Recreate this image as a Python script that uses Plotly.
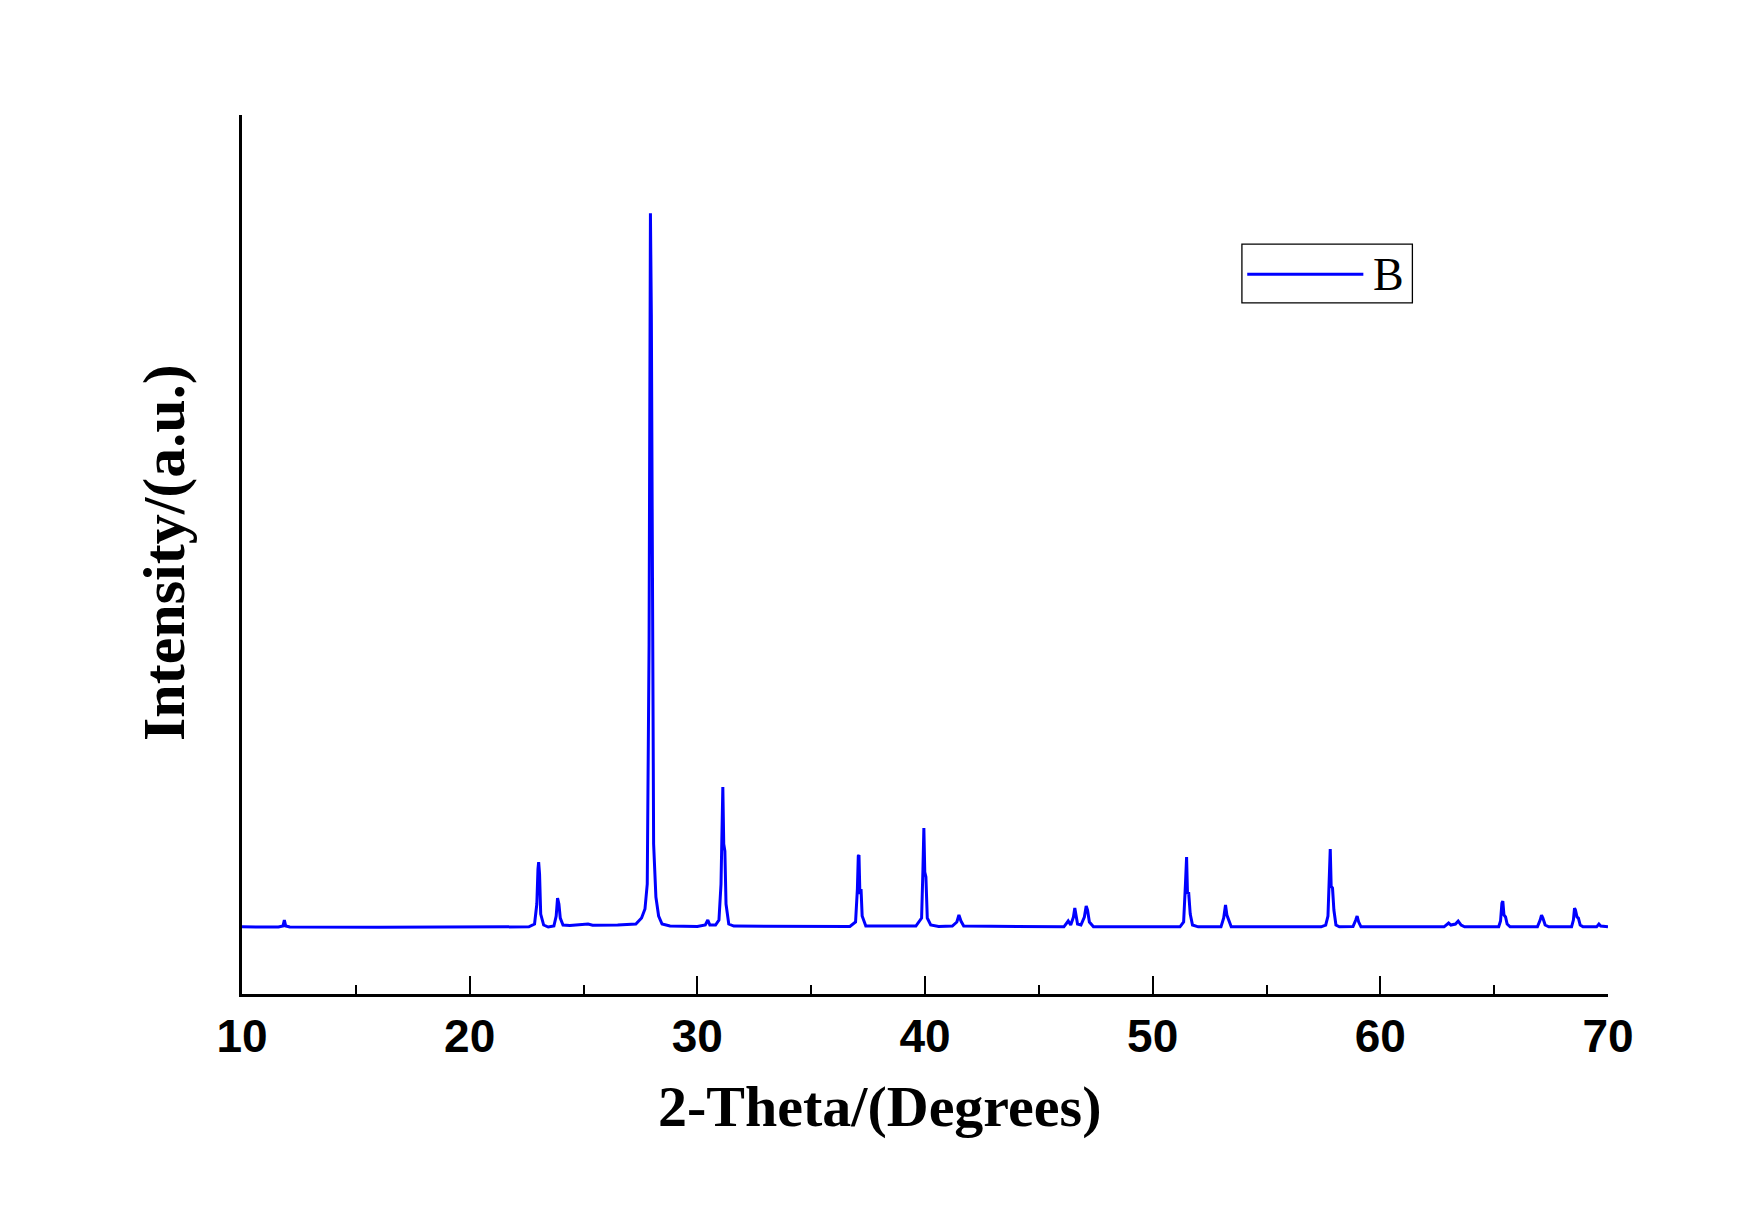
import plotly.graph_objects as go

# XRD pattern (2-theta in degrees, intensity in arbitrary counts)
two_theta = [
    10.00, 11.60, 11.80, 11.86, 11.92, 12.10, 16.00, 20.00,
    22.60, 22.85, 22.95, 23.00, 23.03, 23.07, 23.12, 23.25, 23.45,
    23.70, 23.80, 23.86, 23.92, 23.98, 24.10, 24.40, 25.20, 25.40, 26.50,
    27.30, 27.55, 27.70, 27.80, 27.88, 27.94, 27.98, 28.03, 28.08, 28.18, 28.30, 28.45, 28.80,
    30.00, 30.35, 30.46, 30.55, 30.80,
    30.95, 31.04, 31.09, 31.12, 31.16, 31.21, 31.26, 31.38, 31.60,
    36.70, 36.95, 37.03, 37.07, 37.10, 37.14, 37.19, 37.24, 37.40,
    39.60, 39.85, 39.91, 39.95, 39.99, 40.04, 40.10, 40.25, 40.60,
    41.20, 41.40, 41.49, 41.58, 41.70,
    46.10, 46.29, 46.40, 46.52, 46.58, 46.63, 46.70, 46.85, 47.00, 47.08, 47.14, 47.22, 47.40,
    51.20, 51.36, 51.44, 51.49, 51.53, 51.58, 51.65, 51.75, 52.00,
    53.00, 53.12, 53.20, 53.26, 53.32, 53.45,
    57.40, 57.60, 57.70, 57.76, 57.80, 57.84, 57.90, 57.96, 58.05, 58.20,
    58.80, 58.92, 58.98, 59.05, 59.15,
    62.80, 63.00, 63.10, 63.30, 63.42, 63.55, 63.70,
    65.20, 65.28, 65.34, 65.38, 65.43, 65.50, 65.57, 65.70,
    66.90, 67.02, 67.08, 67.14, 67.24, 67.40,
    68.40, 68.48, 68.53, 68.57, 68.64, 68.70, 68.78, 68.90,
    69.50, 69.60, 69.68, 70.00,
]
intensity = [
    672, 670, 680, 740, 680, 670, 668, 668,
    672, 700, 900, 1250, 1320, 1200, 800, 690, 670,
    680, 780, 960, 900, 760, 690, 685, 700, 688, 690,
    700, 760, 850, 1100, 3500, 7810, 6800, 3500, 1500, 970, 780, 700, 680,
    675, 690, 740, 690, 690,
    740, 1100, 1900, 2070, 1500, 1430, 900, 700, 680,
    675, 720, 1050, 1380, 1390, 1000, 1050, 780, 680,
    680, 760, 1250, 1660, 1220, 1170, 760, 690, 675,
    680, 720, 790, 730, 680,
    672, 730, 690, 770, 860, 780, 700, 690, 770, 880, 840, 720, 672,
    672, 720, 1100, 1370, 1000, 1020, 800, 690, 672,
    672, 760, 890, 790, 750, 672,
    672, 690, 780, 1200, 1450, 1080, 1060, 840, 690, 672,
    675, 740, 780, 720, 672,
    672, 710, 690, 700, 730, 690, 672,
    672, 730, 910, 930, 790, 770, 700, 672,
    672, 740, 790, 760, 690, 672,
    672, 740, 860, 840, 770, 760, 690, 672,
    672, 700, 680, 672,
]
series_name = "B"
x_ticks = [10, 20, 30, 40, 50, 60, 70]

BLUE = "#0000FF"

fig = go.Figure()
fig.add_trace(go.Scatter(
    x=two_theta,
    y=intensity,
    mode="lines",
    name=series_name,
    line=dict(color=BLUE, width=3),
    showlegend=False,
))

# Hand-drawn legend box, like the Origin style one in the reference
fig.add_shape(type="rect", xref="paper", yref="paper",
              x0=0.7320, x1=0.8568, y0=0.7862, y1=0.8530,
              line=dict(color="black", width=1.3), fillcolor="white", layer="above")
fig.add_shape(type="line", xref="paper", yref="paper",
              x0=0.7359, x1=0.8209, y0=0.8188, y1=0.8188,
              line=dict(color=BLUE, width=2.8), layer="above")
fig.add_annotation(x=0.8262, y=0.8188, xref="paper", yref="paper",
                   text=series_name, showarrow=False, xanchor="left", yanchor="middle",
                   font=dict(family="Liberation Serif, Times New Roman, serif", size=46, color="black"))

# Axis titles
fig.add_annotation(x=0.4664, y=-0.1285, xref="paper", yref="paper",
                   text="2-Theta/(Degrees)", showarrow=False, xanchor="center", yanchor="middle",
                   font=dict(family="Liberation Serif, Times New Roman, serif", size=58,
                             color="black", weight="bold"))
fig.add_annotation(x=-0.0575, y=0.5022, xref="paper", yref="paper",
                   text="Intensity/(a.u.)", showarrow=False, textangle=-90,
                   xanchor="center", yanchor="middle",
                   font=dict(family="Liberation Serif, Times New Roman, serif", size=60,
                             color="black", weight="bold"))

# the page body adds an 8px margin, so the figure is shifted back by that much
fig.update_layout(
    width=1747,
    height=1208,
    paper_bgcolor="white",
    plot_bgcolor="white",
    margin=dict(l=234, r=147, t=107, b=222, autoexpand=False),
)

fig.update_xaxes(
    range=[10, 70],
    tickvals=x_ticks,
    ticktext=[str(v) for v in x_ticks],
    ticks="inside",
    ticklen=18,
    tickwidth=2.2,
    tickcolor="black",
    minor=dict(ticks="inside", ticklen=9, tickwidth=2.2, dtick=5, tick0=0, tickcolor="black"),
    showline=True,
    linecolor="black",
    linewidth=2.6,
    showgrid=False,
    zeroline=False,
    tickfont=dict(family="Liberation Sans Narrow, Arial Narrow, Liberation Sans, Arial",
                  size=46, color="black", weight="bold"),
    ticklabelstandoff=0,
)
fig.update_yaxes(
    range=[0, 8793],
    showticklabels=False,
    ticks="",
    showline=True,
    linecolor="black",
    linewidth=2.6,
    showgrid=False,
    zeroline=False,
)

fig.write_html("out.html")
